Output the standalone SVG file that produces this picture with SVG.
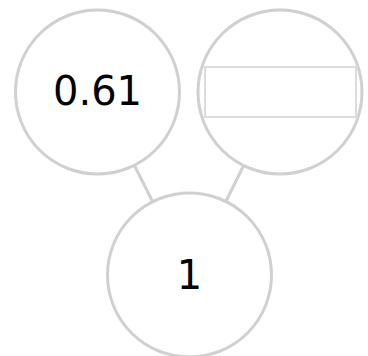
<svg xmlns="http://www.w3.org/2000/svg" width="368" height="356" viewBox="0 0 368 356">
<style>
.n{fill:#fff;stroke:#d0d0d0;stroke-width:3}
.e{stroke:#d0d0d0;stroke-width:3;fill:none}
.t{font-family:"DejaVu Sans",sans-serif;font-size:40px;fill:#000;text-anchor:middle}
</style>
<rect width="368" height="356" fill="#fff"/>
<g id="connectors">
<line class="e" x1="97.5" y1="92" x2="189.5" y2="275"/>
<line class="e" x1="280" y1="92" x2="189.5" y2="275"/>
</g>
<g id="n1"><circle class="n" cx="97.5" cy="92" r="82"/><text class="t" x="97.5" y="105">0.61</text></g>
<g id="n2"><circle class="n" cx="280" cy="92" r="82"/><rect x="205" y="67" width="151" height="50" fill="#fff" stroke="#dcdcdc" stroke-width="2"/></g>
<g id="n3"><circle class="n" cx="189.5" cy="275" r="82"/><text class="t" x="189.5" y="289">1</text></g>
</svg>
